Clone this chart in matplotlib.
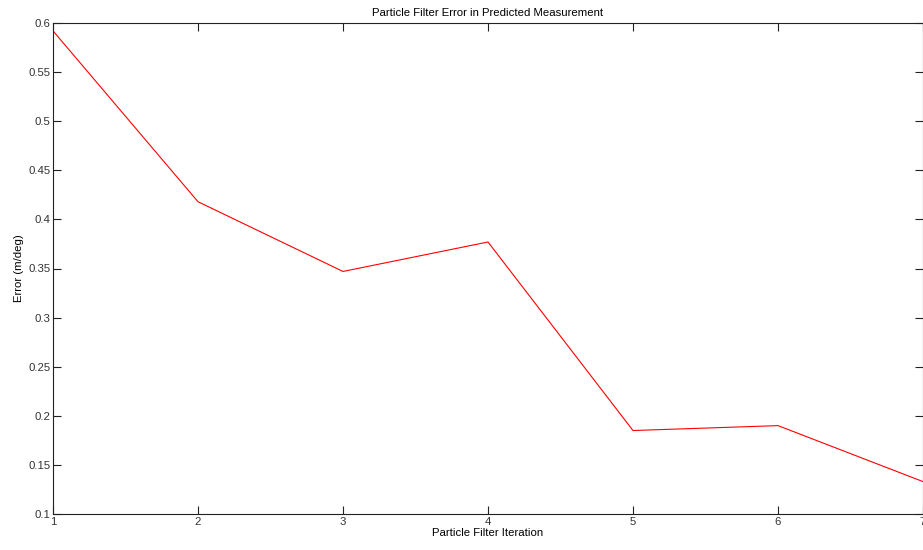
import matplotlib
matplotlib.use('Agg')
import matplotlib.pyplot as plt

iterations = [1, 2, 3, 4, 5, 6, 7]
error = [0.592, 0.418, 0.347, 0.377, 0.185, 0.190, 0.133]
yticks = [0.1, 0.15, 0.2, 0.25, 0.3, 0.35, 0.4, 0.45, 0.5, 0.55, 0.6]
ytick_labels = ['0.1', '0.15', '0.2', '0.25', '0.3', '0.35', '0.4', '0.45', '0.5', '0.55', '0.6']

plt.rcParams['font.family'] = ['Liberation Sans', 'DejaVu Sans']
plt.rcParams['font.size'] = 8.2

fig = plt.figure(figsize=(9.23, 5.5), dpi=100)
ax = fig.add_axes([53 / 923, 1 - 514 / 550, 870 / 923, 491 / 550])

ax.plot(iterations, error, color='red', linewidth=0.8)

ax.set_xlim(1, 7)
ax.set_ylim(0.1, 0.6)
ax.set_xticks(iterations)
ax.set_yticks(yticks)
ax.set_yticklabels(ytick_labels)
ax.tick_params(direction='in', length=6, width=0.8, top=True, right=True,
               colors='#222222', labelcolor='#333333', pad=2)
for s in ax.spines.values():
    s.set_linewidth(0.8)
    s.set_color('#222222')

ax.set_title('Particle Filter Error in Predicted Measurement', fontsize=8.2, pad=5)
ax.set_xlabel('Particle Filter Iteration', labelpad=1)
ax.set_ylabel('Error (m/deg)', labelpad=3)

fig.savefig('out.png', dpi=100)
